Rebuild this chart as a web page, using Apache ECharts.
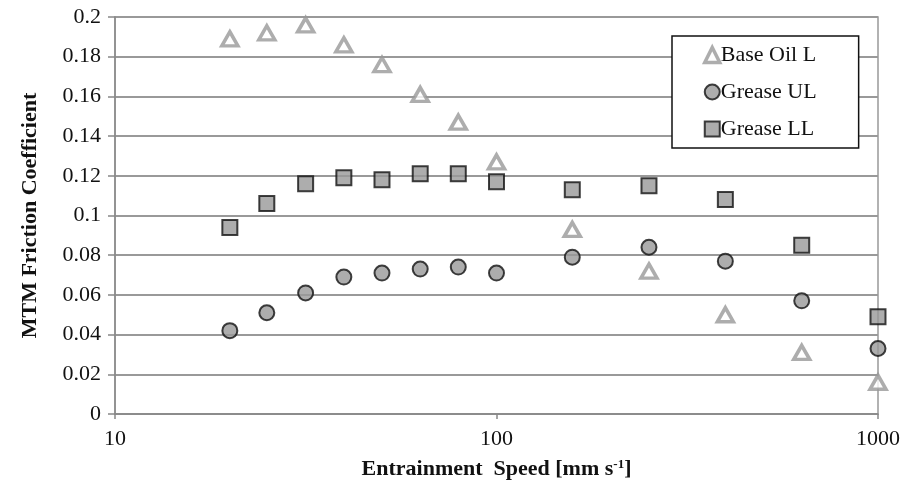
<html>
<head>
    <title></title>
    <meta charset="utf-8">
    <script src="https://cdn.jsdelivr.net/npm/echarts@6/dist/echarts.min.js" type="text/javascript"></script>
</head>
<body style="margin:0">
    <div id="main" style="width: 904px; height: 491px"></div>
    <script>
        var speeds = [20, 25, 31.6, 39.8, 50.1, 63.1, 79.4, 100, 158, 251, 398, 631, 1000];
        var baseOilL = [0.189, 0.192, 0.196, 0.186, 0.176, 0.161, 0.147, 0.127, 0.093, 0.072, 0.050, 0.031, 0.016];
        var greaseUL = [0.042, 0.051, 0.061, 0.069, 0.071, 0.073, 0.074, 0.071, 0.079, 0.084, 0.077, 0.057, 0.033];
        var greaseLL = [0.094, 0.106, 0.116, 0.119, 0.118, 0.121, 0.121, 0.117, 0.113, 0.115, 0.108, 0.085, 0.049];

        function pairs(ys) {
            var out = [];
            for (var i = 0; i < speeds.length; i++) {
                out.push([speeds[i], ys[i]]);
            }
            return out;
        }

        var font = 'Liberation Serif';
        var myChart = echarts.init(document.getElementById('main'));
        var option = {
            animation: false,
            textStyle: { fontFamily: font },
            grid: {
                left: 115, right: 26, top: 17, bottom: 77,
                show: true, borderColor: '#999', borderWidth: 1.5
            },
            legend: {
                orient: 'vertical',
                left: 672, top: 36,
                padding: [8, 42, 8, 31],
                itemGap: 15,
                itemWidth: 15, itemHeight: 15,
                borderColor: '#111', borderWidth: 1.5,
                backgroundColor: '#fff',
                textStyle: { fontFamily: font, fontSize: 22, color: '#111', padding: [0, 0, 0, -4] },
                data: [
                    { name: 'Base Oil L', itemStyle: { color: '#fff', borderColor: '#999', borderWidth: 3.5 } },
                    { name: 'Grease UL' },
                    { name: 'Grease LL' }
                ]
            },
            xAxis: {
                type: 'log', logBase: 10, min: 10, max: 1000,
                name: '{a|Entrainment  Speed [mm s}{s|-1}{a|]}',
                nameLocation: 'middle', nameGap: 44,
                nameTextStyle: {
                    rich: {
                        a: { fontFamily: font, fontSize: 22, fontWeight: 'bold', color: '#111' },
                        s: { fontFamily: font, fontSize: 13, fontWeight: 'bold', color: '#111', verticalAlign: 'top', padding: [0, 0, 10, 0] }
                    }
                },
                axisLine: { lineStyle: { color: '#888', width: 1.5 } },
                axisTick: { show: true, length: 5, lineStyle: { color: '#888', width: 1.5 } },
                minorTick: { show: false },
                splitLine: { show: false },
                axisLabel: {
                    fontFamily: font, fontSize: 22, color: '#111', margin: 14,
                    formatter: function (v) { return String(Math.round(v)); }
                }
            },
            yAxis: {
                type: 'value', min: 0, max: 0.2, interval: 0.02,
                name: 'MTM Friction Coefficient',
                nameLocation: 'middle', nameGap: 74,
                nameTextStyle: { fontFamily: font, fontSize: 22, fontWeight: 'bold', color: '#111' },
                axisLine: { show: true, lineStyle: { color: '#888', width: 1.5 } },
                axisTick: { show: true, inside: false, length: 7, lineStyle: { color: '#888', width: 1.5 } },
                splitLine: { lineStyle: { color: '#999', width: 1.8 } },
                axisLabel: {
                    fontFamily: font, fontSize: 22, color: '#111', margin: 14,
                    formatter: function (v) { return String(+v.toFixed(2)); }
                }
            },
            series: [
                {
                    name: 'Base Oil L', type: 'scatter', symbol: 'triangle', symbolSize: [16, 14],
                    itemStyle: { color: '#fff', borderColor: '#999', borderWidth: 3.5 },
                    data: pairs(baseOilL), z: 3
                },
                {
                    name: 'Grease UL', type: 'scatter', symbol: 'circle', symbolSize: 15,
                    itemStyle: { color: '#999', borderColor: '#111', borderWidth: 2 },
                    data: pairs(greaseUL), z: 4
                },
                {
                    name: 'Grease LL', type: 'scatter', symbol: 'rect', symbolSize: 15,
                    itemStyle: { color: '#999', borderColor: '#111', borderWidth: 2 },
                    data: pairs(greaseLL), z: 5
                }
            ]
        };
        myChart.setOption(option);
    </script>
</body>
</html>
